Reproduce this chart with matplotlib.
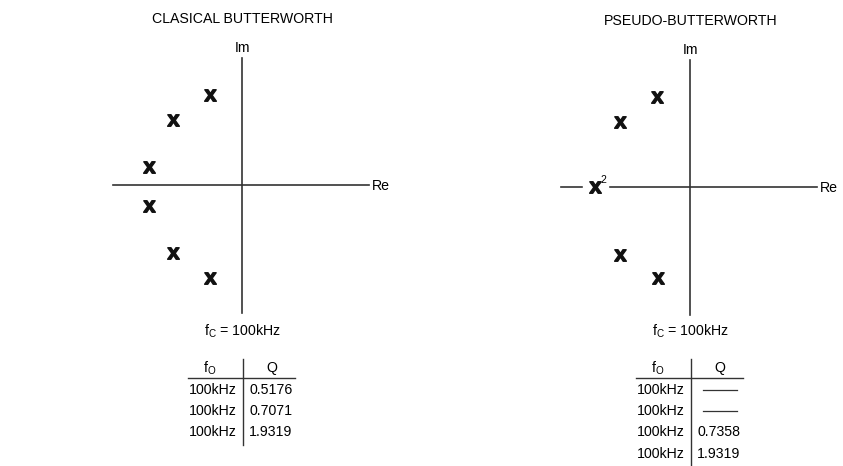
import matplotlib.pyplot as plt

plt.rcParams['font.family'] = ['Liberation Sans', 'DejaVu Sans']
plt.rcParams['mathtext.fontset'] = 'custom'
plt.rcParams['mathtext.rm'] = 'Liberation Sans'
plt.rcParams['mathtext.bf'] = 'Liberation Sans:bold'

# pole positions (units: axis radius ~ 1)
clasical_re = [-0.32, -0.69, -0.93, -0.93, -0.69, -0.32]
clasical_im = [0.90, 0.65, 0.18, -0.21, -0.68, -0.93]

pseudo_re = [-0.33, -0.70, -0.70, -0.32]
pseudo_im = [0.90, 0.65, -0.68, -0.91]
pseudo_double_re = [-0.95]
pseudo_double_im = [0.0]

# table contents
fc_text = '100kHz'
clasical_f0 = ['100kHz', '100kHz', '100kHz']
clasical_q = ['0.5176', '0.7071', '1.9319']
pseudo_f0 = ['100kHz', '100kHz', '100kHz', '100kHz']
pseudo_q = [None, None, '0.7358', '1.9319']

W, H = 843, 466
FS = 10.2
LINE_C = '#333333'

fig = plt.figure(figsize=(W / 100, H / 100), dpi=100)


def draw_panel(x0, x1, cx, cy, title, re, im, f0, q, dbl_re=None, dbl_im=None):
    ax = fig.add_axes([x0 / W, 0, (x1 - x0) / W, 1])
    ax.set_xlim((x0 - cx) / 100, (x1 - cx) / 100)
    ax.set_ylim(-(H - cy) / 100, cy / 100)
    ax.axis('off')

    # axes of the s-plane
    ax.plot([-1.29, 1.27], [0, 0], color=LINE_C, lw=1.2, zorder=1)
    ax.plot([0, 0], [-1.28, 1.27], color=LINE_C, lw=1.2, zorder=1)
    ax.text(0, 1.30, 'Im', ha='center', va='bottom', fontsize=FS)
    ax.text(1.30, -0.01, 'Re', ha='left', va='center', fontsize=FS)
    ax.text(0.005, 1.66, title, ha='center', va='center', fontsize=FS)

    ax.plot(re, im, linestyle='none', marker=r'$\mathbf{x}$', markersize=8.5,
            color='#111111', zorder=3)
    if dbl_re is not None:
        ax.plot(dbl_re, dbl_im, linestyle='none', marker='s', markersize=18,
                color='white', zorder=2)
        ax.plot(dbl_re, dbl_im, linestyle='none', marker=r'$\mathbf{x}$',
                markersize=8.5, color='#111111', zorder=3)
        for xr, yi in zip(dbl_re, dbl_im):
            ax.annotate('2', (xr, yi), xytext=(4.2, 1.2), textcoords='offset points',
                        fontsize=7.5, ha='left', va='bottom', zorder=4)

    # table
    y = lambda py: (cy - py) / 100
    ax.text(0, y(331), r'$\mathregular{f_C}$ = ' + fc_text, ha='center',
            va='center', fontsize=FS)
    ax.text(-0.32, y(368), r'$\mathregular{f_O}$', ha='center', va='center',
            fontsize=FS)
    ax.text(0.30, y(368), 'Q', ha='center', va='center', fontsize=FS)
    ax.plot([-0.54, 0.53], [y(378), y(378)], color=LINE_C, lw=1.0)
    row_y = [y(390 + 21.2 * i) for i in range(len(f0))]
    ax.plot([0.01, 0.01], [y(359), row_y[-1] - 0.13], color=LINE_C, lw=1.0)
    for ry, f, qq in zip(row_y, f0, q):
        ax.text(-0.05, ry, f, ha='right', va='center', fontsize=FS)
        if qq is None:
            ax.plot([0.13, 0.47], [ry, ry], color=LINE_C, lw=0.9)
        else:
            ax.text(0.07, ry, qq, ha='left', va='center', fontsize=FS)
    return ax


draw_panel(0, 421, 242, 185.3, 'CLASICAL BUTTERWORTH',
           clasical_re, clasical_im, clasical_f0, clasical_q)
draw_panel(421, 843, 690, 187, 'PSEUDO-BUTTERWORTH',
           pseudo_re, pseudo_im, pseudo_f0, pseudo_q,
           pseudo_double_re, pseudo_double_im)

fig.savefig('out.png', dpi=100)
